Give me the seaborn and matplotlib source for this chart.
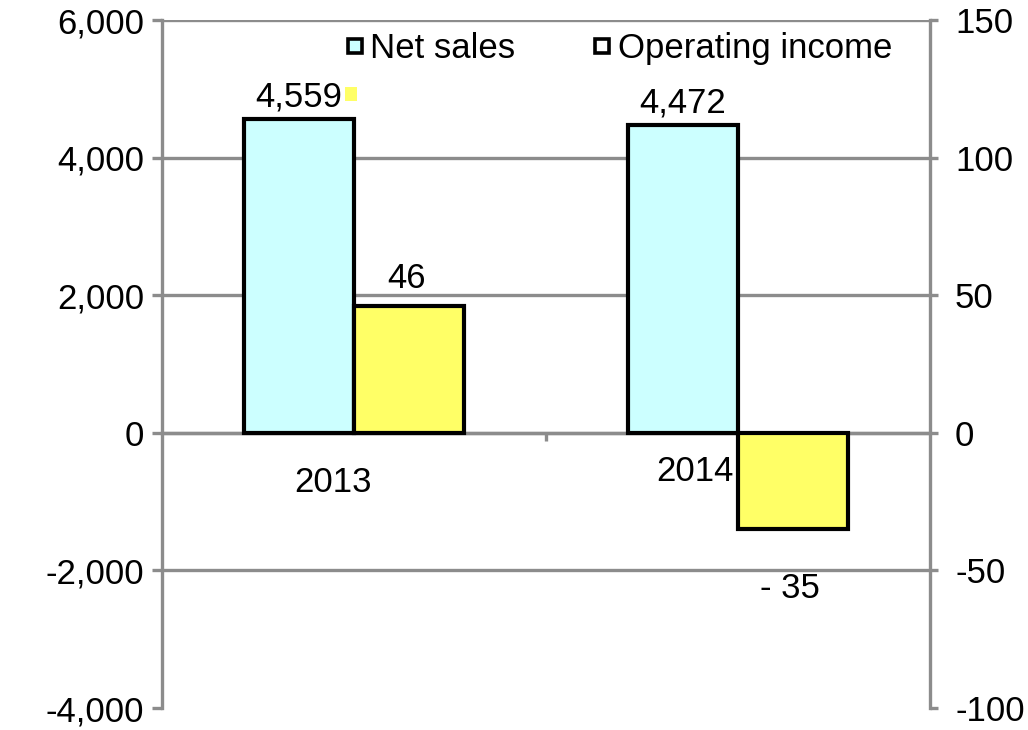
import matplotlib
matplotlib.use("Agg")
import matplotlib.pyplot as plt
import seaborn as sns
import pandas as pd
from matplotlib.lines import Line2D
from matplotlib.patches import Rectangle

# Fiscal years and the two reported series
years = ["2013", "2014"]
net_sales = [4559, 4472]          # left axis
operating_income = [46, -35]      # right axis
series = ["Net sales", "Operating income"]

sales_ticks = [-4000, -2000, 0, 2000, 4000, 6000]
income_ticks = [-100, -50, 0, 50, 100, 150]

sns.set_theme(style="white")
plt.rcParams["font.family"] = ["Liberation Sans", "DejaVu Sans"]
plt.rcParams["text.color"] = "black"
plt.rcParams["xtick.labelcolor"] = "black"
plt.rcParams["ytick.labelcolor"] = "black"

FS = 25
GRID = "#8c8c8c"
colors = {"Net sales": "#CCFFFF", "Operating income": "#FFFF66"}

# Each axis gets both hue levels so the bars are dodged side by side;
# the level belonging to the other axis is removed after drawing.
df_left = pd.DataFrame({
    "year": years * 2,
    "value": net_sales + [0] * len(years),
    "series": [series[0]] * len(years) + [series[1]] * len(years),
})
df_right = pd.DataFrame({
    "year": years * 2,
    "value": [0] * len(years) + operating_income,
    "series": [series[0]] * len(years) + [series[1]] * len(years),
})

fig = plt.figure(figsize=(10.28, 7.30), dpi=100)
ax = fig.add_axes([0.1576, 0.0301, 0.9047 - 0.1576, 0.9726 - 0.0301])
ax2 = ax.twinx()

bar_kw = dict(x="year", y="value", hue="series", hue_order=series, order=years,
              palette=colors, saturation=1, width=0.573, gap=0,
              edgecolor="black", linewidth=3.0, legend=False, zorder=3)
sns.barplot(data=df_left, ax=ax, **bar_kw)
sns.barplot(data=df_right, ax=ax2, **bar_kw)
ax.containers[1].remove()
ax2.containers[0].remove()

ax.set_xlim(-0.5, 1.5)
ax.set_ylim(-4000, 6000)
ax2.set_ylim(-100, 150)
ax.set_yticks(sales_ticks)
ax.set_yticklabels([f"{v:,}" for v in sales_ticks], fontsize=FS)
ax2.set_yticks(income_ticks)
ax2.set_yticklabels([str(v) for v in income_ticks], fontsize=FS)
ax.set_xlabel("")
ax.set_ylabel("")
ax2.set_ylabel("")

# Horizontal grid on the sales axis, drawn behind the bars
ax.set_axisbelow(True)
ax.yaxis.grid(True, color=GRID, linewidth=2.4)
ax.xaxis.grid(False)
ax2.grid(False)
for line, val in zip(ax.yaxis.get_gridlines(), sales_ticks):
    if val == sales_ticks[0]:
        line.set_visible(False)

ax.spines["top"].set_visible(False)
ax2.spines["top"].set_visible(False)
ax.spines["right"].set_visible(False)
ax2.spines["left"].set_visible(False)
ax2.spines["bottom"].set_visible(False)
ax.spines["left"].set_color(GRID)
ax.spines["left"].set_linewidth(2.4)
ax2.spines["right"].set_color(GRID)
ax2.spines["right"].set_linewidth(2.4)

# Category axis sits on the zero line, with a divider tick between years
ax.spines["bottom"].set_position(("data", 0))
ax.spines["bottom"].set_color(GRID)
ax.spines["bottom"].set_linewidth(2.4)
ax.set_xticks([0.5])
ax.set_xticklabels([""])
ax.tick_params(axis="x", direction="out", length=6, width=2.4, color=GRID, bottom=True)
ax.tick_params(axis="y", direction="out", length=7, width=2.4, color=GRID, pad=6,
               left=True)
ax2.tick_params(axis="y", direction="out", length=6, width=2.4, color=GRID, pad=12,
                right=True)

# Year labels under the zero line
for i, (yr, inc) in enumerate(zip(years, operating_income)):
    if inc >= 0:
        ax2.annotate(yr, (i, 0), xytext=(-15, -36), textcoords="offset points",
                     ha="center", va="center", fontsize=FS, zorder=5)
    else:
        ax2.annotate(yr, (i, 0), xytext=(-31, -28), textcoords="offset points",
                     ha="center", va="center", fontsize=FS, zorder=5)

# Value labels on the bars
bw = 0.573 / 2
for i, v in enumerate(net_sales):
    ax.annotate(f"{v:,}", (i - bw / 2, v), xytext=(0, 16), textcoords="offset points",
                ha="center", va="center", fontsize=FS)
for i, v in enumerate(operating_income):
    if v >= 0:
        ax2.annotate(f"{v}", (i + bw / 2, v), xytext=(-2, 20), textcoords="offset points",
                     ha="center", va="center", fontsize=FS)
    else:
        ax2.annotate(f"- {abs(v)}", (i + bw / 2, v), xytext=(-2, -43),
                     textcoords="offset points", ha="center", va="center", fontsize=FS)

# Small stray swatch beside the first label
ax.add_patch(Rectangle((0.238, 0.883), 0.016, 0.02, transform=ax.transAxes,
                       facecolor="#FFFF66", edgecolor="none", zorder=4))

handles = [
    Line2D([], [], marker="s", linestyle="none", markersize=10,
           markerfacecolor="#CCFFFF", markeredgecolor="black", markeredgewidth=2.6),
    Line2D([], [], marker="s", linestyle="none", markersize=10,
           markerfacecolor="white", markeredgecolor="black", markeredgewidth=2.6),
]
leg = ax2.legend(handles, series, loc="center left", bbox_to_anchor=(0.219, 0.959),
                 ncol=2, frameon=False, fontsize=FS, handlelength=0.6,
                 handletextpad=0.15, columnspacing=2.2, borderaxespad=0)

fig.savefig("out.png", dpi=100)
